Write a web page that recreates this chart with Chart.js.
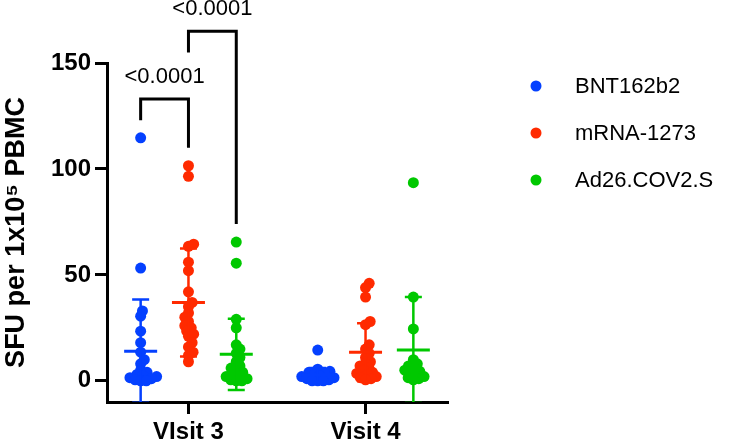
<!DOCTYPE html>
<html>
<head>
<meta charset="utf-8">
<script src="https://cdn.jsdelivr.net/npm/chart.js@4.4.1/dist/chart.umd.min.js"></script>
<style>
  html, body { margin: 0; padding: 0; background: #fff; }
  canvas { display: block; }
</style>
</head>
<body>
<canvas id="chart" width="746" height="443"></canvas>
<script>
// ── data ──
const visits   = ['VIsit 3', 'Visit 4'];
const vaccines = ['BNT162b2', 'mRNA-1273', 'Ad26.COV2.S'];
const colors   = ['#0440ff', '#ff2a00', '#00c800'];

const bntV3  = [114.7, 53.2, 33, 30.5, 23.4, 18, 13.5, 10, 8, 5, 4, 3, 2.5, 2, 1.5, 1, 0.5, 0, 0];
const bntV4  = [14.5, 5.5, 4.5, 4, 3.5, 3, 2.5, 2, 1.5, 1, 0.5, 0, 0, 0];
const mrnaV3 = [101.5, 96.5, 64.5, 63.5, 56, 52, 42, 37, 35, 32, 30, 28, 26, 25, 23.5, 22, 21, 18, 16, 13.5, 12, 9];
const mrnaV4 = [46, 44, 39.5, 28, 26.5, 17, 15, 13, 11, 9, 8, 7, 6, 5, 4, 3.5, 3, 2, 1.5, 1, 0.5];
const adV3   = [65.5, 55.5, 29, 25, 17, 15, 13, 11, 9, 7, 6, 5, 4, 3, 2.5, 2, 1, 0.5, 0, 0];
const adV4   = [93.5, 39.5, 24.5, 10, 8, 7, 6, 5, 4.5, 4, 3, 2, 1.5, 1, 0.5];

const meanV3 = [14, 37, 12.5];
const sdV3   = [24.4, 25.5, 16.8];
const meanV4 = [2.8, 13.5, 14.5];
const sdV4   = [3.2, 13.7, 25];

const yTicks = [0, 50, 100, 150];

// comparisons at Visit 3 (vaccine index from -> to)
const pLabels      = ['<0.0001', '<0.0001'];
const bracketFrom  = [0, 1];
const bracketTo    = [1, 2];
const bracketTop   = [133, 165];
const footFrom     = [123, 155];
const footTo       = [110, 74];

// ── layout ──
const FONT = "'Liberation Sans', Arial, sans-serif";
const groupOffset = [-0.27, 0, 0.27];
const seriesValues = [[bntV3, bntV4], [mrnaV3, mrnaV4], [adV3, adV4]];
const DOT = 5.6; // min spacing between dot centres for the swarm

function groupX(visitIdx, vacIdx) { return visitIdx + 1 + groupOffset[vacIdx]; }

const datasets = vaccines.map((name, vi) => ({
    label: name,
    data: seriesValues[vi].flatMap((vals, ti) => vals.map(v => ({ x: groupX(ti, vi), y: v, g: ti }))),
    backgroundColor: colors[vi],
    borderWidth: 0,
    pointRadius: 5.5,
    pointHoverRadius: 5.5,
}));

// mean ± SD bars, drawn over the dots
const errorBars = {
    id: 'errorBars',
    afterDatasetsDraw(chart) {
        const { ctx, chartArea: a, scales: { x, y } } = chart;
        ctx.save();
        ctx.beginPath();
        ctx.rect(a.left, a.top, a.right - a.left, a.bottom - a.top);
        ctx.clip();
        [meanV3, meanV4].forEach((means, ti) => {
            const sds = ti === 0 ? sdV3 : sdV4;
            means.forEach((m, vi) => {
                const cx = x.getPixelForValue(groupX(ti, vi));
                const my = y.getPixelForValue(m);
                const hi = y.getPixelForValue(m + sds[vi]);
                const lo = y.getPixelForValue(m - sds[vi]);
                ctx.strokeStyle = colors[vi];
                ctx.lineWidth = 2.5;
                ctx.beginPath();
                ctx.moveTo(cx, hi); ctx.lineTo(cx, lo);
                ctx.moveTo(cx - 8.5, hi); ctx.lineTo(cx + 8.5, hi);
                ctx.moveTo(cx - 8.5, lo); ctx.lineTo(cx + 8.5, lo);
                ctx.stroke();
                ctx.lineWidth = 3;
                ctx.beginPath();
                ctx.moveTo(cx - 16.5, my); ctx.lineTo(cx + 16.5, my);
                ctx.stroke();
            });
        });
        ctx.restore();
    }
};

// p-value brackets and the legend
const extras = {
    id: 'extras',
    afterDraw(chart) {
        const { ctx, scales: { x, y } } = chart;
        ctx.save();
        ctx.strokeStyle = '#000';
        ctx.lineWidth = 3;
        ctx.lineJoin = 'miter';
        ctx.fillStyle = '#000';
        ctx.font = '22px ' + FONT;
        ctx.textAlign = 'center';
        ctx.textBaseline = 'middle';
        pLabels.forEach((lab, i) => {
            const x1 = x.getPixelForValue(groupX(0, bracketFrom[i]));
            const x2 = x.getPixelForValue(groupX(0, bracketTo[i]));
            const top = y.getPixelForValue(bracketTop[i]);
            ctx.beginPath();
            ctx.moveTo(x1, y.getPixelForValue(footFrom[i]));
            ctx.lineTo(x1, top);
            ctx.lineTo(x2, top);
            ctx.lineTo(x2, y.getPixelForValue(footTo[i]));
            ctx.stroke();
            ctx.fillText(lab, (x1 + x2) / 2, top - 22);
        });

        ctx.textAlign = 'left';
        vaccines.forEach((name, i) => {
            const ly = 86 + i * 47;
            ctx.fillStyle = colors[i];
            ctx.beginPath();
            ctx.arc(536, ly, 5.5, 0, Math.PI * 2);
            ctx.fill();
            ctx.fillStyle = '#000';
            ctx.fillText(name, 575, ly + 1);
        });
        ctx.restore();
    }
};

const chart = new Chart(document.getElementById('chart'), {
    type: 'scatter',
    data: { datasets },
    options: {
        responsive: false,
        animation: false,
        events: [],
        layout: { padding: { top: 63, right: 299, left: 0, bottom: 0 } },
        plugins: { legend: { display: false }, tooltip: { enabled: false } },
        scales: {
            x: {
                type: 'linear',
                min: 0.54,
                max: 2.46,
                afterBuildTicks: s => { s.ticks = visits.map((_, i) => ({ value: i + 1 })); },
                afterFit: s => { s.height = 41; },
                ticks: {
                    callback: v => visits[v - 1],
                    color: '#000',
                    padding: 4,
                    font: { family: FONT, size: 24, weight: 'bold' },
                },
                grid: { drawOnChartArea: false, drawTicks: true, tickLength: 12, color: '#000', lineWidth: 3 },
                border: { display: true, color: '#000', width: 3 },
            },
            y: {
                min: -10,
                max: 150,
                afterBuildTicks: s => { s.ticks = yTicks.map(v => ({ value: v })); },
                afterFit: s => { s.width = 107; },
                ticks: {
                    color: '#000',
                    padding: 4,
                    font: { family: FONT, size: 24, weight: 'bold' },
                },
                grid: { drawOnChartArea: false, drawTicks: true, tickLength: 12, color: '#000', lineWidth: 3 },
                border: { display: true, color: '#000', width: 3 },
                title: {
                    display: true,
                    text: 'SFU per 1x10\u2075 PBMC',
                    color: '#000',
                    padding: 0,
                    font: { family: FONT, size: 27, weight: 'bold', lineHeight: 1.2 },
                },
            },
        },
    },
    plugins: [errorBars, extras],
});

// spread the dots sideways like a column scatter (beeswarm), then redraw
(function swarm() {
    const xs = chart.scales.x, ys = chart.scales.y;
    chart.data.datasets.forEach((ds, vi) => {
        [0, 1].forEach(ti => {
            const pts = ds.data.filter(p => p.g === ti).sort((a, b) => a.y - b.y);
            const cx = xs.getPixelForValue(groupX(ti, vi));
            const placed = [];
            pts.forEach(p => {
                const py = ys.getPixelForValue(p.y);
                const cands = [0];
                placed.forEach(q => {
                    const dy = py - q.y;
                    if (Math.abs(dy) < DOT) {
                        const dx = Math.sqrt(DOT * DOT - dy * dy);
                        cands.push(q.x + dx, q.x - dx);
                    }
                });
                cands.sort((a, b) => Math.abs(a) - Math.abs(b));
                const ok = cands.find(c => placed.every(q => (c - q.x) ** 2 + (py - q.y) ** 2 >= DOT * DOT - 0.01));
                placed.push({ x: ok, y: py });
                p.x = xs.getValueForPixel(cx + ok);
            });
        });
    });
    chart.update('none');
})();
</script>
</body>
</html>
